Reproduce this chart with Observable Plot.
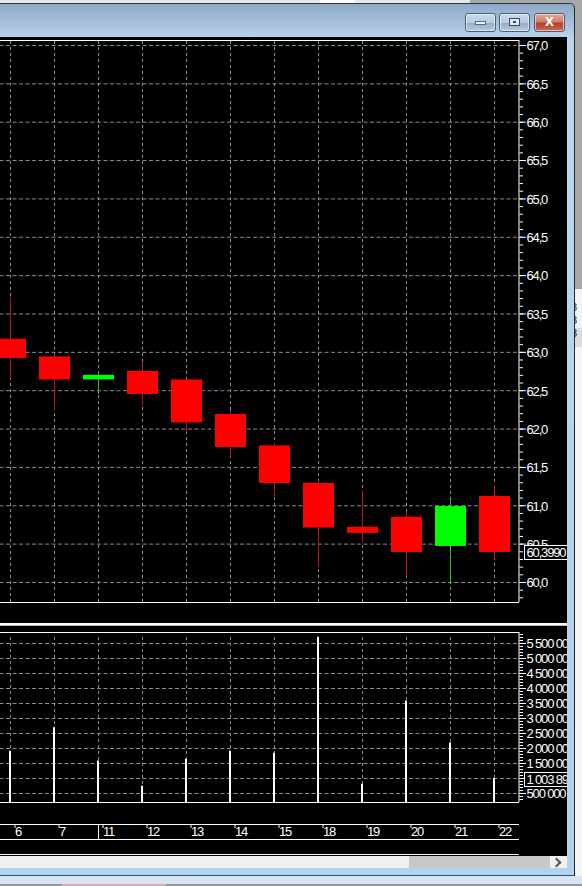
<!DOCTYPE html>
<html><head><meta charset="utf-8">
<script src="https://cdn.jsdelivr.net/npm/d3@7"></script>
<script src="https://cdn.jsdelivr.net/npm/@observablehq/plot@0.6"></script>
<style>
html,body{margin:0;padding:0;background:#f4f4f4;}
#page{position:relative;width:582px;height:886px;overflow:hidden;font-family:"Liberation Sans",sans-serif;background:#f4f4f4;}
.a{position:absolute;}
svg{display:block;}
.btn{position:absolute;top:13px;height:19px;border:1px solid #4b5f78;border-radius:3px;box-sizing:border-box;background:linear-gradient(#c9d8ea 0,#b9cce2 50%,#92abc6 51%,#b7cce2 100%);box-shadow:inset 0 0 0 1px rgba(255,255,255,.55);}
</style></head><body>
<div id="page">
  <div class="a" style="left:0;top:0;width:582px;height:4px;background:#e8e8e8"></div>
  <div class="a" style="left:320px;top:0;width:35px;height:4px;background:#fff"></div>
  <div class="a" style="left:470px;top:0;width:112px;height:289px;background:#a8a8a8"></div>
  <div class="a" style="left:575px;top:328px;width:7px;height:19px;background:#dcdcdc"></div>
  <div class="a" style="left:571px;top:301px;color:#222;font-size:11px;line-height:13px">8<br>8<br>8</div>
  <div class="a" style="left:0;top:3px;width:575px;height:873px;background:linear-gradient(#8ea8c6 0,#bad4ed 34px,#b5d2ea 100%);border-top:1px solid #2b3a48;border-right:1px solid #1d2b33;border-bottom:1px solid #1d5a78;box-sizing:border-box;border-top-right-radius:5px"></div>
  <div class="a" style="left:0;top:876px;width:582px;height:8px;background:#d9e4f1"></div>
  <div class="a" style="left:0;top:884px;width:582px;height:2px;background:#999"></div>
  <div class="a" style="left:62px;top:884px;width:104px;height:2px;background:#d9b0b0"></div>
  <div class="btn" style="left:465px;width:31px"><div class="a" style="left:9px;top:7px;width:11px;height:4px;background:#eef2f6;border:1px solid #5a6b80;box-sizing:border-box"></div></div>
  <div class="btn" style="left:499px;width:31px"><div class="a" style="left:9px;top:4px;width:11px;height:8px;border:1px solid #3c4a5c;background:#dfe7f0;box-sizing:border-box"><div class="a" style="left:3px;top:2px;width:3px;height:2px;background:#3c4a5c"></div></div></div>
  <div class="btn" style="left:534px;width:31px;background:linear-gradient(#e2a694 0,#d0806c 45%,#b3402c 55%,#cf6a55 100%);color:#fff;font:bold 16px 'Liberation Sans';text-align:center;line-height:14px">x</div>
  <div class="a" style="left:0;top:37px;width:567px;height:819px;background:#000"></div>
  <div class="a" id="price" style="left:0;top:0"></div>
  <div class="a" style="left:0;top:623px;width:567px;height:3px;background:linear-gradient(#fff 0,#fff 60%,#b8b8b8 61%)"></div>
  <div class="a" id="volume" style="left:0;top:626px"></div>
  <div class="a" style="left:0;top:856px;width:567px;height:12px;background:#f0f0f0"></div>
  <div class="a" style="left:409px;top:856px;width:141px;height:12px;background:#c8c8c8"></div>
  <div class="a" style="left:553px;top:859px;width:5px;height:5px;border-top:2px solid #555;border-right:2px solid #555;transform:rotate(45deg)"></div>
</div>
<script>
const days   = ["6","7","11","12","13","14","15","18","19","20","21","22"];
const opens  = [63.17,62.94,62.64,62.75,62.64,62.19,61.78,61.29,60.72,60.85,60.47,61.12];
const closes = [62.92,62.64,62.70,62.45,62.08,61.76,61.29,60.71,60.64,60.39,60.99,60.39];
const highs  = [63.72,62.97,62.74,62.87,62.64,62.24,61.81,61.32,61.19,60.92,61.11,61.27];
const lows   = [62.65,62.23,62.45,62.31,61.95,61.63,61.10,60.20,60.51,60.07,59.98,60.30];
const volumes= [1910000,2690000,1580000,740000,1640000,1910000,1840000,5710000,810000,3580000,2180000,1003890];
const priceTicks  = d3.range(60,67.01,0.5);
const priceMinor  = d3.range(59.8,67.05,0.1);
const volumeTicks = d3.range(500000,5500001,500000);
const volumeMinor = d3.range(300000,5800001,100000);
const lastPrice = 60.3990, lastPriceLabel = "60,3990";
const lastVolume = 1003890, lastVolumeLabel = "1 003 890";
const monthStart = "11";

const candles = days.map((d,i)=>({day:d,open:opens[i],close:closes[i],high:highs[i],low:lows[i],volume:volumes[i]}));
const colorOf = c => c.close>=c.open ? "#00ff00" : "#ff0000";
const font = "Liberation Sans";
const labelSize = 13;
const xScale = {type:"band",domain:days,range:[-12,516],paddingInner:12/44,paddingOuter:6/44,align:.5,axis:null};
const grid = "#8c8c8c";
const first = () => days[0], last = () => days[11];
const fmtPrice = v => v.toFixed(1).replace(".",",");
const fmtVol = v => d3.format(",")(v).replace(/,/g," ");
const svgStyle = {background:"transparent",fontFamily:font,letterSpacing:"-1.15px"};
const frameX = {x1:first,x2:last,insetLeft:-40,insetRight:-9,stroke:"#fff",strokeWidth:1};
const gridX = {x1:first,x2:last,insetLeft:-40,insetRight:-7,stroke:grid,strokeDasharray:"4 2.5"};

function addBox(svg, y, label){
  const g = d3.select(svg).append("g");
  const c = Math.round(y);
  g.append("rect").attr("x",524.5).attr("y",c-5.5).attr("width",60).attr("height",14).attr("fill","#000").attr("stroke","#fff");
  g.append("text").attr("x",526.5).attr("y",c+6).attr("fill","#fff").attr("text-anchor","start").attr("font-size",labelSize).text(label);
}
function nudgeLabels(svg){
  d3.select(svg).selectAll('[aria-label="y-axis tick label"]').attr("transform",function(){
    return (this.getAttribute("transform")||"")+" translate(0,0.7)";
  });
}

const pLo = 59.739, pHi = 67.065;
const price = Plot.plot({
  width:567,height:620,margin:0,
  style:svgStyle,
  x:xScale,
  y:{domain:[pLo,pHi],range:[602,40],axis:null},
  marks:[
    Plot.ruleY(priceTicks,gridX),
    Plot.ruleX(days,{x:d=>d,y1:pLo,y2:pHi,stroke:grid,strokeDasharray:"3 3"}),
    Plot.ruleX(candles,{x:"day",y1:"low",y2:"high",stroke:c=>c.close>=c.open?"#20c820":"#b81414",strokeWidth:1}),
    Plot.barY(candles,{x:"day",y1:"open",y2:"close",fill:colorOf,insetLeft:1}),
    Plot.ruleY([pHi,pLo],frameX),
    Plot.ruleX([days[11]],{x:d=>d,y1:pLo,y2:pHi,dx:24.5,stroke:"#fff"}),
    Plot.axisY(priceMinor,{anchor:"right",tickSize:3.5,tickPadding:0,text:()=>"",stroke:"#fff",x:last,dx:24.5}),
    Plot.axisY(priceTicks,{anchor:"right",tickSize:6.5,tickPadding:1,tickFormat:fmtPrice,stroke:"#fff",fill:"#fff",fontSize:labelSize,label:null,x:last,dx:24.5})
  ]
});
document.getElementById("price").append(price);
nudgeLabels(price);
addBox(price, price.scale("y").apply(lastPrice), lastPriceLabel);

const vLo = 200000, vHi = 5866667;
const volume = Plot.plot({
  width:567,height:230,margin:0,
  style:svgStyle,
  x:xScale,
  y:{domain:[vLo,vHi],range:[176,6],axis:null},
  marks:[
    Plot.ruleY(volumeTicks,gridX),
    Plot.ruleX(days,{x:d=>d,y1:vLo,y2:5700000,stroke:grid,strokeDasharray:"3 3"}),
    Plot.ruleX(candles,{x:"day",y1:vLo,y2:"volume",stroke:"#fff",strokeWidth:2,dx:-0.5}),
    Plot.ruleY([vHi,vLo],frameX),
    Plot.ruleX([days[11]],{x:d=>d,y1:vLo,y2:vHi,dx:24.5,stroke:"#fff"}),
    Plot.axisY(volumeMinor,{anchor:"right",tickSize:3.5,tickPadding:0,text:()=>"",stroke:"#fff",x:last,dx:24.5}),
    Plot.axisY(volumeTicks,{anchor:"right",tickSize:6.5,tickPadding:1,tickFormat:fmtVol,stroke:"#fff",fill:"#fff",fontSize:labelSize,label:null,x:last,dx:24.5}),
    Plot.ruleY([vLo],{...frameX,dy:22}),
    Plot.ruleY([vLo],{...frameX,dy:37}),
    Plot.ruleY([vLo],{...frameX,dy:52}),
    Plot.ruleX([monthStart],{x:d=>d,y1:vLo,y2:vLo,dy:22,insetBottom:-15,stroke:"#fff"}),
    Plot.axisX(days,{anchor:"bottom",y:vLo,dy:22,tickSize:4,tickPadding:-2,stroke:"#fff",fill:"#fff",fontSize:labelSize,label:null,textAnchor:"start",dx:4.5})
  ]
});
document.getElementById("volume").append(volume);
nudgeLabels(volume);
addBox(volume, volume.scale("y").apply(lastVolume), lastVolumeLabel);
</script>
</body></html>
